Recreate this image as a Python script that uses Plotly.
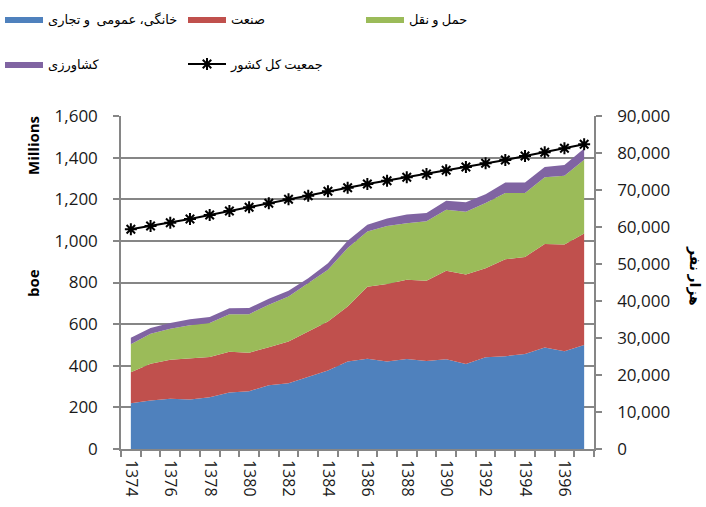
import plotly.graph_objects as go

years = list(range(1374, 1398))
x_labels = [str(y) for y in range(1374, 1398, 2)]

household = [220, 233, 241, 238, 249, 271, 278, 306, 316, 348, 377, 420,
             434, 421, 432, 423, 431, 409, 441, 446, 457, 488, 470, 500]
industry = [149, 177, 188, 196, 193, 196, 185, 183, 200, 217, 236, 265,
            346, 372, 381, 385, 426, 429, 427, 466, 466, 497, 512, 535]
transport = [134, 144, 149, 160, 163, 181, 185, 204, 217, 232, 248, 281,
             265, 278, 272, 286, 293, 302, 314, 318, 307, 321, 331, 355]
agriculture = [32, 27, 27, 29, 29, 28, 29, 29, 27, 24, 32, 35,
               33, 36, 42, 40, 43, 45, 42, 50, 50, 49, 52, 54]
population = [59380, 60270, 61160, 62160, 63240, 64320, 65320, 66400, 67480,
              68460, 69650, 70620, 71620, 72520, 73430, 74320, 75320, 76220,
              77210, 78110, 79190, 80190, 81270, 82350]

names = ["خانگی، عمومی  و تجاری", "صنعت", "حمل و نقل", "کشاورزی"]
line_name = "جمعیت کل کشور"
colors = ["#4F81BD", "#C0504D", "#9BBB59", "#8064A2"]
legend_ids = ["legend", "legend", "legend3", "legend2"]

fig = go.Figure()
for name, vals, col, lg in zip(names, [household, industry, transport, agriculture], colors, legend_ids):
    fig.add_trace(go.Scatter(
        x=years, y=vals, name=name, stackgroup="one", mode="lines",
        line=dict(width=0, color=col), fillcolor=col, legend=lg,
    ))

fig.add_trace(go.Scatter(
    x=years, y=population, name=line_name, yaxis="y2", mode="lines+markers",
    line=dict(color="black", width=2),
    marker=dict(symbol="asterisk", size=10, line=dict(color="black", width=2), color="black"),
    legend="legend2",
))

grid = "#868686"
tickfont = dict(family="Open Sans, Liberation Sans, sans-serif", size=17, color="#1a1a1a")
fa_font = dict(family="Times New Roman, Liberation Serif, DejaVu Sans, sans-serif", size=13, color="black")

W, H = 706, 507


def legend_box(x_px, y_px):
    return dict(
        orientation="h", xref="container", yref="container",
        x=x_px / W, y=1 - y_px / H, xanchor="left", yanchor="top",
        entrywidth=130, entrywidthmode="pixels", itemwidth=38,
        font=fa_font, bgcolor="rgba(0,0,0,0)", traceorder="normal",
    )


fig.update_layout(
    width=W, height=H,
    margin=dict(l=121, r=112, t=116, b=58, autoexpand=False),
    paper_bgcolor="white", plot_bgcolor="white",
    showlegend=True,
    xaxis=dict(
        range=[1373.5, 1397.5], tickmode="array", tickvals=list(range(1374, 1398, 2)),
        ticktext=x_labels, tickangle=90, ticks="", showgrid=False,
        showline=True, linecolor=grid, linewidth=1.5, ticklabelstandoff=6,
        tickfont=dict(family="Open Sans, Liberation Sans, sans-serif", size=16, color="#1a1a1a"),
        minor=dict(tickmode="linear", tick0=1373.5, dtick=1, ticks="outside",
                   ticklen=6, tickcolor=grid, tickwidth=1.5, showgrid=False),
        zeroline=False,
    ),
    yaxis=dict(
        range=[0, 1600], dtick=200, tickformat=",", showgrid=True,
        gridcolor=grid, gridwidth=1.5, showline=True, linecolor=grid, linewidth=1.5,
        ticks="outside", ticklen=6, tickcolor=grid, tickwidth=1.5, ticklabelstandoff=12,
        tickfont=tickfont, zeroline=False,
    ),
    yaxis2=dict(
        range=[0, 90000], dtick=10000, tickformat=",", overlaying="y", side="right",
        showgrid=False, showline=True, linecolor=grid, linewidth=1.5,
        ticks="outside", ticklen=6, tickcolor=grid, tickwidth=1.5, ticklabelstandoff=12,
        tickfont=tickfont, zeroline=False,
    ),
    legend=legend_box(0, 4),
    legend3=legend_box(361, 4),
    legend2=legend_box(0, 49),
    annotations=[
        dict(text="<b>Millions</b>", xref="paper", yref="paper",
             x=(33 - 121) / 473, y=(449 - 146) / 333, textangle=-90, showarrow=False,
             xanchor="center", yanchor="middle",
             font=dict(family="Open Sans, Liberation Sans, sans-serif", size=15, color="black")),
        dict(text="<b>boe</b>", xref="paper", yref="paper",
             x=(33 - 121) / 473, y=(449 - 283) / 333, textangle=-90, showarrow=False,
             xanchor="center", yanchor="middle",
             font=dict(family="Open Sans, Liberation Sans, sans-serif", size=15, color="black")),
        dict(text="<b>هزار نفر</b>", xref="paper", yref="paper",
             x=(694 - 121) / 473, y=(449 - 276) / 333, textangle=90, showarrow=False,
             xanchor="center", yanchor="middle",
             font=dict(family="Times New Roman, Liberation Serif, DejaVu Sans, sans-serif", size=14, color="black")),
    ],
)

fig.write_html("out.html", post_script="document.body.style.margin='0';",
               config={"displayModeBar": False})
